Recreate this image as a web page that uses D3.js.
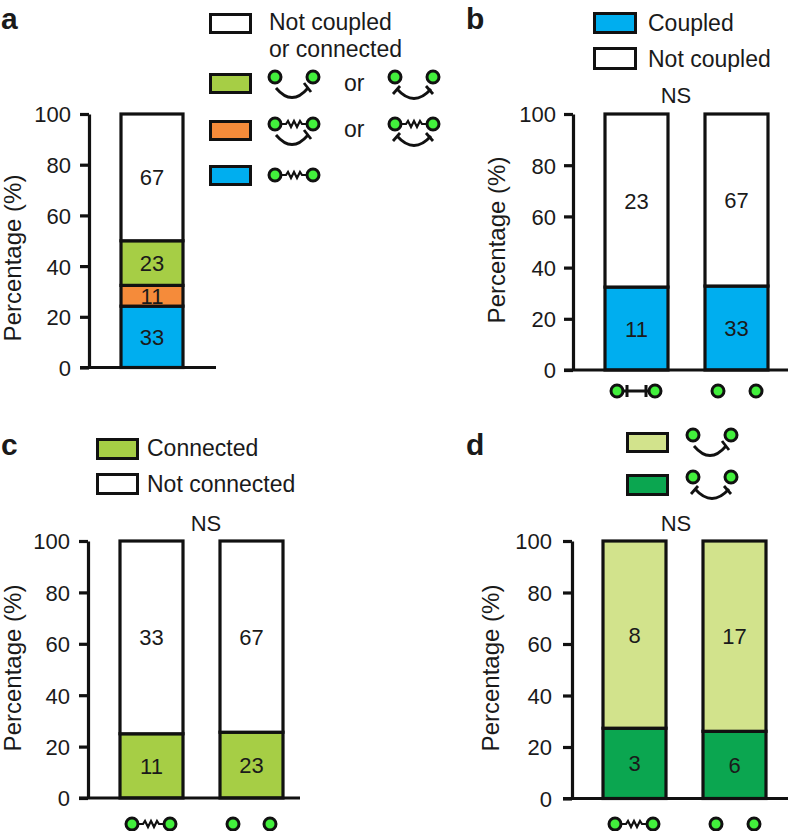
<!DOCTYPE html>
<html><head><meta charset="utf-8">
<script src="https://cdn.jsdelivr.net/npm/d3@7/dist/d3.min.js"></script>
<style>html,body{margin:0;padding:0;background:#fff}svg{display:block}text{font-family:"Liberation Sans",Arial,sans-serif;fill:#1a1a1a}</style>
</head><body><svg id="c" width="788" height="831"></svg>
<script>
const yTicks=[0,20,40,60,80,100];
const colWhite="#ffffff",colLime="#a6ce45",colOrange="#f58b3a",colBlue="#00aeef",colPale="#d2e38c",colGreen="#0ba650";

const aPct=[24.2,8.2,17.6,50];
const aCounts=[33,11,23,67];
const aColors=[colBlue,colOrange,colLime,colWhite];
const bPct=[[32.4,67.6],[32.8,67.2]];
const bCounts=[[11,23],[33,67]];
const bColors=[colBlue,colWhite];
const cPct=[[25,75],[25.6,74.4]];
const cCounts=[[11,33],[23,67]];
const cColors=[colLime,colWhite];
const dPct=[[27.3,72.7],[26.1,73.9]];
const dCounts=[[3,8],[6,17]];
const dColors=[colGreen,colPale];

const svg=d3.select("#c");
const LW=3.2, INK="#111";

function dots(g,x1,x2,y){
  [x1,x2].forEach(x=>g.append("circle").attr("cx",x).attr("cy",y).attr("r",6)
    .attr("fill","#42f03c").attr("stroke",INK).attr("stroke-width",3));
}
function spring(g,x1,x2,y){
  const pts=[[x1,y],[x1+11,y]];
  [-3,3,-3,3,-3].forEach((a,i)=>pts.push([x1+13+i*3,y+a]));
  pts.push([x2-11,y],[x2,y]);
  g.append("path").attr("d",d3.line()(pts)).attr("fill","none").attr("stroke",INK).attr("stroke-width",2.2);
}
function arc(g,x1,x2,y,both){
  const st=both?x1+2:x1+1, en=both?x2-2:x2-5, y0=both?y+12:y+11;
  g.append("path").attr("d",`M${st},${y0} Q${(st+en)/2},${y0+19} ${en},${y0}`)
   .attr("fill","none").attr("stroke",INK).attr("stroke-width",2.8);
  g.append("path").attr("d",both?`M${x2-7},${y+9} L${x2},${y+17}`:`M${x2-9},${y+6} L${x2-2},${y+15}`).attr("stroke",INK).attr("stroke-width",2.8);
  if(both) g.append("path").attr("d",`M${x1+5},${y+9} L${x1-2},${y+17}`).attr("stroke",INK).attr("stroke-width",2.8);
}
function glyph(kind,x,y){
  const g=svg.append("g"),x2=x+38;
  if(kind==="spring") spring(g,x,x2,y);
  if(kind==="bar") g.append("path").attr("d",`M${x+6},${y}H${x2-6}M${x+10},${y-6}V${y+6}M${x2-9},${y-6}V${y+6}`).attr("stroke",INK).attr("stroke-width",3).attr("fill","none");
  if(kind==="arc1") arc(g,x,x2,y,false);
  if(kind==="arc2") arc(g,x,x2,y,true);
  if(kind==="spring-arc1"){spring(g,x,x2,y);arc(g,x,x2,y,false);}
  if(kind==="spring-arc2"){spring(g,x,x2,y);arc(g,x,x2,y,true);}
  dots(g,x,x2,y);
}
function legendBox(x,y,w,h,fill){
  svg.append("rect").attr("x",x+1.5).attr("y",y+1.5).attr("width",w-3).attr("height",h-3).attr("fill",fill).attr("stroke",INK).attr("stroke-width",3);
}
function txt(x,y,s,size=23,anchor="start"){
  return svg.append("text").attr("x",x).attr("y",y).attr("font-size",size).attr("text-anchor",anchor).text(s);
}
function panel(o){
  const y=d3.scaleLinear().domain([0,100]).range([o.y0,o.y100]);
  const g=svg.append("g");
  const ag=g.append("g").attr("transform",`translate(${o.axisX},0)`)
    .call(d3.axisLeft(y).tickValues(yTicks).tickSizeInner(9).tickSizeOuter(0).tickPadding(o.tp));
  ag.selectAll(".domain").attr("stroke",INK).attr("stroke-width",LW);
  ag.selectAll(".tick line").attr("stroke",INK).attr("stroke-width",LW);
  ag.selectAll("text").attr("font-size",22).attr("font-family",'"Liberation Sans",Arial,sans-serif').attr("fill","#1a1a1a").attr("dy","0.36em");
  svg.append("text").attr("transform",`translate(${o.labelX},${o.labelY}) rotate(-90)`).attr("text-anchor","middle").attr("font-size",24).text("Percentage (%)");
  const x=d3.scaleBand().domain(o.pct.map((_,i)=>i)).range(o.xRange).paddingInner(o.pct.length>1?.37:0).paddingOuter(0);
  o.pct.forEach((vals,i)=>{
    let acc=0;
    vals.forEach((v,j)=>{
      const top=y(acc+v),bot=y(acc);
      g.append("rect").attr("x",x(i)).attr("y",top).attr("width",x.bandwidth()).attr("height",bot-top)
       .attr("fill",o.colors[j]).attr("stroke",INK).attr("stroke-width",LW);
      g.append("text").attr("x",x(i)+x.bandwidth()/2).attr("y",(top+bot)/2+8).attr("text-anchor","middle").attr("font-size",22).text(o.counts[i][j]);
      acc+=v;
    });
  });
  g.append("line").attr("x1",o.axisX-9).attr("x2",o.baseEnd).attr("y1",y(0)).attr("y2",y(0)).attr("stroke",INK).attr("stroke-width",LW);
}

panel({y0:367.5,y100:114,axisX:89,tp:9,labelX:21,labelY:258,pct:[aPct],counts:[aCounts],colors:aColors,xRange:[121,183],baseEnd:216});
panel({y0:370,y100:114,axisX:573,tp:8,labelX:505,labelY:240,pct:bPct,counts:bCounts,colors:bColors,xRange:[605,768],baseEnd:788});
panel({y0:798,y100:541,axisX:88,tp:9,labelX:21,labelY:668,pct:cPct,counts:cCounts,colors:cColors,xRange:[120,283],baseEnd:300});
panel({y0:798.5,y100:541,axisX:572,tp:11,labelX:499,labelY:668,pct:dPct,counts:dCounts,colors:dColors,xRange:[603,766],baseEnd:788});

[["a",1,29],["b",466,29],["c",1,455],["d",466,455]].forEach(d=>txt(d[1],d[2],d[0],30).attr("font-weight","bold"));

legendBox(209,13,43,21,colWhite);txt(269,30,"Not coupled");txt(269,57,"or connected");
legendBox(209,73,43,21,colLime);glyph("arc1",275,77);txt(344,91,"or");glyph("arc2",395,77);
legendBox(209,120,43,21,colOrange);glyph("spring-arc1",275,124);txt(344,137,"or");glyph("spring-arc2",395,124);
legendBox(209,165,43,21,colBlue);glyph("spring",275,175);

legendBox(593,12,44,22,colBlue);txt(648,31,"Coupled");
legendBox(593,47,44,23,colWhite);txt(648,67,"Not coupled");
txt(676,103,"NS",22,"middle");
glyph("bar",617,391);dots(svg.append("g"),718,756,391);

legendBox(96,438,43,22,colLime);txt(147,456,"Connected");
legendBox(96,473,43,22,colWhite);txt(147,492,"Not connected");
txt(206,531,"NS",22,"middle");
glyph("spring",132,824);dots(svg.append("g"),233,270,824);

legendBox(626,432,43,21,colPale);glyph("arc1",693,435);
legendBox(626,474,43,22,colGreen);glyph("arc2",693,477);
txt(676,531,"NS",22,"middle");
glyph("spring",615,824);dots(svg.append("g"),716,754,824);
</script></body></html>
